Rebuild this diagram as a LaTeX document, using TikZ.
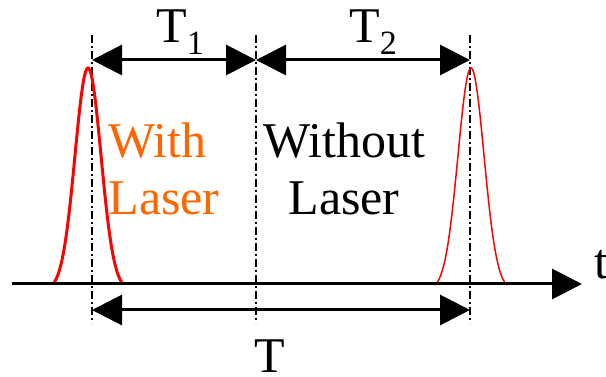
\documentclass[tikz,border=0pt]{standalone}
\usepackage{fontspec}
\setmainfont{Liberation Serif}
\newfontfamily\timesfont{Liberation Serif}
\usetikzlibrary{arrows.meta}
\definecolor{laserorange}{RGB}{255,102,0}
\newcommand{\lowidx}[1]{\raisebox{-12pt}{\fontsize{34}{34}\selectfont #1}}

\begin{document}
\begin{tikzpicture}[x=1pt, y=-1pt, line width=3pt, >={Triangle[length=30pt, width=30pt]},
    guide/.style={line width=1.2pt, dash pattern=on 8pt off 3pt on 2pt off 3pt},
    txt/.style={inner sep=0pt, font=\timesfont\fontsize{50}{58}\selectfont}]
  \useasboundingbox (0,0) rectangle (606,377);
  % guide lines
  \coordinate (g1top) at (92,35);  \coordinate (g1bot) at (92,323);
  \coordinate (g2top) at (256,35); \coordinate (g2bot) at (256,323);
  \coordinate (g3top) at (470,35); \coordinate (g3bot) at (470,323);
  \draw[guide] (g1top) -- (g1bot);
  \draw[guide] (g2top) -- (g2bot);
  \draw[guide] (g3top) -- (g3bot);
  % pulses
  \draw[red, line width=3pt] plot[domain=-35:35, samples=70, smooth] ({88+\x}, {290-222*exp(-\x*\x/338)});
  \draw[red, line width=1.5pt] plot[domain=-36:36, samples=70, smooth] ({471+\x}, {290-222*exp(-\x*\x/338)});
  % time axis
  \coordinate (tstart) at (12,284);
  \coordinate (tend) at (582,284);
  \draw[->] (tstart) -- (tend);
  \node[txt, anchor=base west] (taxis) at (593,279) {t};
  % intervals
  \coordinate (s1) at (92,60); \coordinate (s2) at (256,60); \coordinate (s3) at (470,60);
  \coordinate (p1) at (92,310); \coordinate (p2) at (470,310);
  \draw[<->] (s1) -- (s2);
  \draw[<->] (s2) -- (s3);
  \draw[<->] (p1) -- (p2);
  \node[txt, anchor=base] (tone) at (180,43) {T\lowidx{1}};
  \node[txt, anchor=base] (ttwo) at (373,43) {T\lowidx{2}};
  \node[txt, anchor=base] (tall) at (270,372) {T};
  % phases
  \node[txt, anchor=base west, align=left, text=laserorange] (with) at (107,215) {With\\Laser};
  \node[txt, anchor=base, align=center] (without) at (344,215) {Without\\Laser};
\end{tikzpicture}
\end{document}
